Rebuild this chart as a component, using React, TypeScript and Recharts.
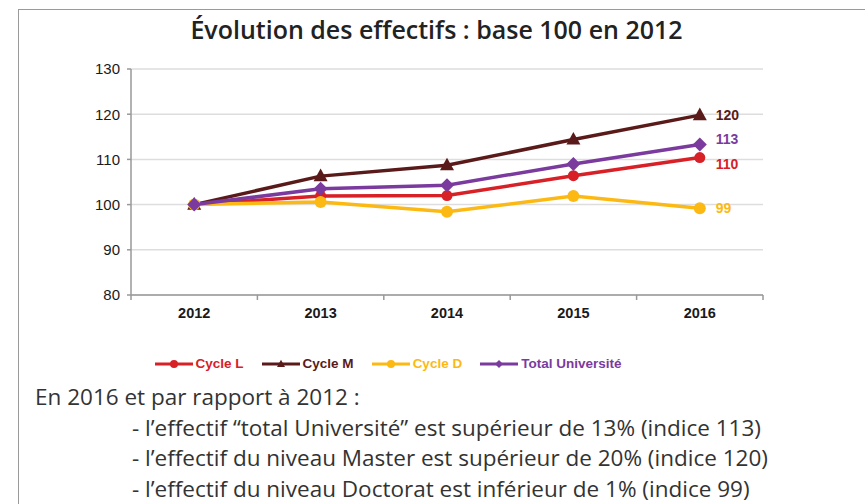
import React from "react";
import { LineChart, Line, XAxis, YAxis, CartesianGrid, Legend, LabelList } from "recharts";

const years = ["2012", "2013", "2014", "2015", "2016"];
const cycleL = [100, 101.9, 102.0, 106.4, 110.4];
const cycleM = [100, 106.3, 108.7, 114.4, 119.8];
const cycleD = [100, 100.6, 98.4, 101.9, 99.2];
const totalUniv = [100, 103.5, 104.3, 109.0, 113.3];
const endLabels = { L: "110", M: "120", D: "99", T: "113" };
const yTicks = [80, 90, 100, 110, 120, 130];

const title = "Évolution des effectifs : base 100 en 2012";
const intro = "En 2016 et par rapport à 2012 :";
const bullets = [
  "- l’effectif “total Université” est supérieur de 13% (indice 113)",
  "- l’effectif du niveau Master est supérieur de 20% (indice 120)",
  "- l’effectif du niveau Doctorat est inférieur de 1% (indice 99)",
];

const data = years.map((y, i) => ({
  year: y,
  L: cycleL[i],
  M: cycleM[i],
  D: cycleD[i],
  T: totalUniv[i],
}));

const series = [
  { key: "L", name: "Cycle L", color: "#d82027", shape: "circle", size: 5.5, dy: 6 },
  { key: "M", name: "Cycle M", color: "#5a1a1a", shape: "triangle", size: 7, dy: 0 },
  { key: "D", name: "Cycle D", color: "#fdb913", shape: "circle", size: 6, dy: 0 },
  { key: "T", name: "Total Université", color: "#7b3a9e", shape: "diamond", size: 7, dy: -5 },
];

const Marker = ({ cx, cy, shape, size, color }: any) => {
  if (cx == null || cy == null) return null;
  if (shape === "triangle") {
    const h = size * 1.8;
    return (
      <polygon
        points={`${cx},${cy - h * 0.6} ${cx - size},${cy + h * 0.4} ${cx + size},${cy + h * 0.4}`}
        fill={color}
      />
    );
  }
  if (shape === "diamond") {
    return (
      <polygon
        points={`${cx},${cy - size} ${cx + size},${cy} ${cx},${cy + size} ${cx - size},${cy}`}
        fill={color}
      />
    );
  }
  return <circle cx={cx} cy={cy} r={size} fill={color} />;
};

const XTick = (props: any) => {
  const { x, y, payload, index, width, visibleTicksCount } = props;
  const n = visibleTicksCount || years.length;
  const half = payload && payload.offset ? payload.offset : (width || 632) / n / 2;
  return (
    <g>
      <line x1={x - half} y1={y} x2={x - half} y2={y + 5} stroke="#999" strokeWidth={1.5} />
      {index === n - 1 && (
        <line x1={x + half} y1={y} x2={x + half} y2={y + 5} stroke="#999" strokeWidth={1.5} />
      )}
      <text
        x={x}
        y={y + 23}
        textAnchor="middle"
        fontFamily="Liberation Sans, Arial, sans-serif"
        fontWeight="bold"
        fontSize={14.5}
        fill="#1a1a1a"
      >
        {payload.value}
      </text>
    </g>
  );
};

const LegendContent = () => (
  <div
    style={{
      display: "flex",
      justifyContent: "center",
      alignItems: "center",
      fontFamily: "Liberation Sans, Arial, sans-serif",
      fontWeight: "bold",
      fontSize: 13.5,
    }}
  >
    {series.map((s, i) => (
      <div key={s.key} style={{ display: "flex", alignItems: "center", marginLeft: i === 0 ? 0 : 18 }}>
        <svg width={38} height={14} style={{ marginRight: 3 }}>
          <line x1={0} y1={7} x2={38} y2={7} stroke={s.color} strokeWidth={3} />
          <Marker cx={19} cy={7} shape={s.shape} size={4} color={s.color} />
        </svg>
        <span style={{ color: s.color }}>{s.name}</span>
      </div>
    ))}
  </div>
);

const makeEndLabel = (s: any) => (props: any) => {
  const { x, y, index } = props;
  if (index !== years.length - 1) return null;
  return (
    <text
      x={x + 16}
      y={y + s.dy}
      dy={5}
      fontFamily="Liberation Sans, Arial, sans-serif"
      fontWeight="bold"
      fontSize={14}
      fill={s.color}
    >
      {(endLabels as any)[s.key]}
    </text>
  );
};

export default function App() {
  return (
    <div
      style={{
        position: "absolute",
        left: 0,
        top: 0,
        width: 865,
        height: 504,
        background: "#fff",
        overflow: "hidden",
      }}
    >
      <div style={{ position: "absolute", left: 18, top: 9, width: 847, height: 1, background: "#9a9a9a" }} />
      <div style={{ position: "absolute", left: 18, top: 9, width: 1, height: 495, background: "#9a9a9a" }} />
      <div
        style={{
          position: "absolute",
          left: 0,
          width: 873,
          top: 12,
          textAlign: "center",
          fontFamily: "Open Sans, sans-serif",
          fontSize: 25,
          fontWeight: 600,
          color: "#222",
          lineHeight: "34px",
        }}
      >
        {title}
      </div>
      <div style={{ position: "absolute", left: 0, top: 0 }}>
        <LineChart
          width={865}
          height={380}
          data={data}
          margin={{ top: 69, right: 102, left: 71, bottom: 40 }}
        >
          <CartesianGrid vertical={false} stroke="#dddddd" strokeWidth={1.5} />
          <XAxis
            dataKey="year"
            scale="band"
            stroke="#999"
            strokeWidth={1.5}
            tickLine={false}
            tickSize={0}
            tickMargin={0}
            height={30}
            tick={<XTick />}
            interval={0}
          />
          <YAxis
            width={60}
            domain={[80, 130]}
            ticks={yTicks}
            stroke="#999"
            strokeWidth={1.5}
            tickSize={4}
            tickMargin={7}
            tick={{ fontFamily: "Liberation Sans, Arial, sans-serif", fontSize: 15, fill: "#1a1a1a" }}
          />
          <Legend
            verticalAlign="bottom"
            content={<LegendContent />}
            wrapperStyle={{ position: "absolute", top: 356, left: 0, width: 776 }}
          />
          {series.map((s) => (
            <Line
              key={s.key}
              dataKey={s.key}
              name={s.name}
              stroke={s.color}
              strokeWidth={3.5}
              isAnimationActive={false}
              dot={(p: any) => <Marker key={`${s.key}-${p.index}`} cx={p.cx} cy={p.cy} shape={s.shape} size={s.size} color={s.color} />}
              activeDot={false}
            >
              <LabelList dataKey={s.key} content={makeEndLabel(s)} />
            </Line>
          ))}
        </LineChart>
      </div>
      <div
        style={{
          position: "absolute",
          left: 35,
          top: 382,
          fontFamily: "Open Sans, sans-serif",
          fontSize: 22.5,
          color: "#333",
          lineHeight: "30.5px",
        }}
      >
        <div>{intro}</div>
        {bullets.map((b, i) => (
          <div key={i} style={{ paddingLeft: 97, whiteSpace: "nowrap" }}>
            {b}
          </div>
        ))}
      </div>
    </div>
  );
}
